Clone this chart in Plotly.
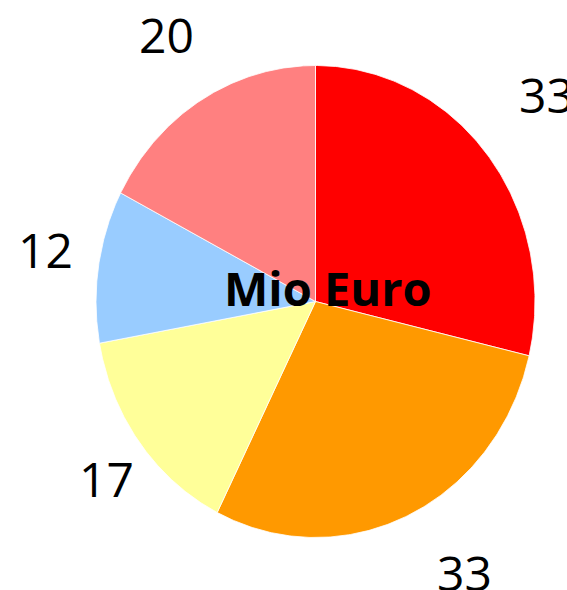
import numpy as np
import plotly.graph_objects as go

# Data
categories = ["A", "B", "C", "D", "E"]
values = [33, 33, 17, 12, 20]
value_labels = ["33", "33", "17", "12", "20"]
center_text = "Mio Euro"

# Styles
colors = ["#FF0000", "#FF9900", "#FFFF99", "#99CCFF", "#FF8080"]
label_fx = [1.339, 1.600, 1.189, 1.242, 1.310]
label_fy = [1.415, 1.268, 1.255, 1.48, 1.323]

W, H = 567, 590
cx, cy = 315.5, 301.5
rx, ry = 219.5, 236.0

total = float(sum(values))
fig = go.Figure()
start = 0.0
annotations = []
for i, v in enumerate(values):
    a0 = start / total * 2 * np.pi
    a1 = (start + v) / total * 2 * np.pi
    th = np.linspace(a0, a1, 200)
    xs = np.concatenate([[cx], cx + rx * np.sin(th), [cx]])
    ys = np.concatenate([[cy], cy - ry * np.cos(th), [cy]])
    fig.add_trace(go.Scatter(
        x=xs, y=ys, mode="lines", fill="toself",
        fillcolor=colors[i], line=dict(color="white", width=0.8),
        hoverinfo="skip", showlegend=False, name=categories[i]))
    am = (a0 + a1) / 2
    annotations.append(dict(
        x=cx + label_fx[i] * rx * np.sin(am),
        y=cy - label_fy[i] * ry * np.cos(am),
        xref="x", yref="y", text=value_labels[i], showarrow=False,
        xanchor="center", yanchor="middle",
        font=dict(family="Open Sans", size=48, color="black")))
    start += v

annotations.append(dict(
    x=328, y=288, xref="x", yref="y", text="<b>" + center_text + "</b>",
    showarrow=False, xanchor="center", yanchor="middle",
    font=dict(family="Open Sans", size=47, color="black")))

fig.update_layout(
    width=W, height=H, margin=dict(l=0, r=0, t=0, b=0),
    paper_bgcolor="white", plot_bgcolor="white",
    xaxis=dict(range=[0, W], visible=False, fixedrange=True),
    yaxis=dict(range=[H, 0], visible=False, fixedrange=True),
    annotations=annotations, showlegend=False)

fig.write_html("out.html", config={"displayModeBar": False})
